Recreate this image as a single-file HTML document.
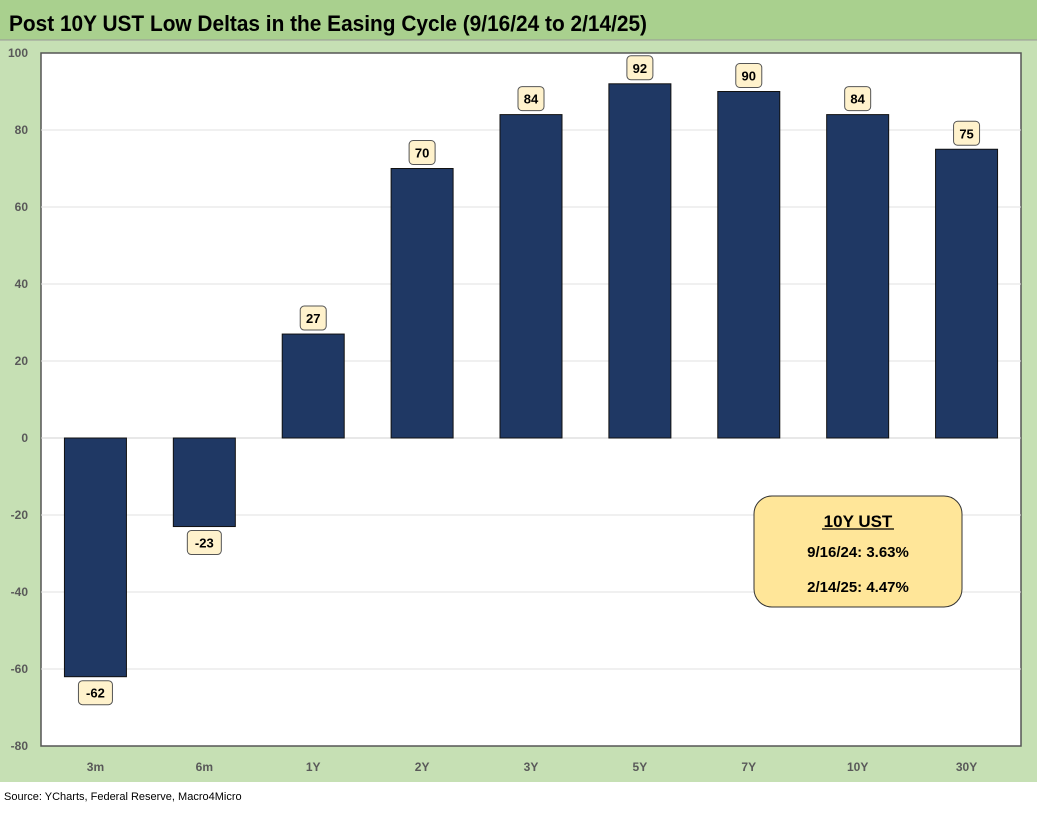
<!DOCTYPE html>
<html><head><meta charset="utf-8"><style>
body{margin:0;width:1038px;height:809px;background:#fff;font-family:"Liberation Sans",sans-serif;overflow:hidden}
</style></head><body>
<svg width="1038" height="809" xmlns="http://www.w3.org/2000/svg">
<rect x="0" y="0" width="1037" height="782" fill="#c6e0b4"/>
<rect x="0" y="0" width="1037" height="40" fill="#a9d08e"/>
<line x1="0" y1="40" x2="1037" y2="40" stroke="#999" stroke-width="1"/>
<text x="9" y="31" font-size="22" font-weight="bold" fill="#000" textLength="638" lengthAdjust="spacingAndGlyphs">Post 10Y UST Low Deltas in the Easing Cycle (9/16/24 to 2/14/25)</text>
<rect x="41" y="53" width="980" height="693" fill="#fff" stroke="#555" stroke-width="1.5"/>
<g id="grid"></g><g id="bars"></g><g id="labels"></g><g id="yticks"></g><g id="xticks"></g>
<g>
<rect x="754" y="496" width="208" height="111" rx="18" fill="#ffe699" stroke="#333" stroke-width="1"/>
<text x="858" y="527" font-size="17" font-weight="bold" text-anchor="middle">10Y UST</text>
<line x1="822" y1="529" x2="894" y2="529" stroke="#000" stroke-width="1.2"/>
<text x="858" y="557" font-size="15" font-weight="bold" text-anchor="middle">9/16/24: 3.63%</text>
<text x="858" y="592" font-size="15" font-weight="bold" text-anchor="middle">2/14/25: 4.47%</text>
</g>
<text x="4" y="800" font-size="11" fill="#000">Source: YCharts, Federal Reserve, Macro4Micro</text>
</svg>
<script>
const categories=["3m","6m","1Y","2Y","3Y","5Y","7Y","10Y","30Y"];
const values=[-62,-23,27,70,84,92,90,84,75];
const yTicks=[100,80,60,40,20,0,-20,-40,-60,-80];
(function(){
const NS="http://www.w3.org/2000/svg";
const pL=41,pR=1021,pT=53,pB=746,yMax=100,yMin=-80;
const y=v=>pT+(yMax-v)/(yMax-yMin)*(pB-pT);
const band=(pR-pL)/categories.length;
const xc=i=>pL+band*(i+0.5);
function mk(tag,attrs,parent){const e=document.createElementNS(NS,tag);for(const k in attrs)e.setAttribute(k,attrs[k]);document.getElementById(parent).appendChild(e);return e;}
yTicks.forEach(t=>{
  if(t!==yMax&&t!==yMin){const g=mk('line',{x1:pL,x2:pR,y1:y(t),y2:y(t),stroke:t===0?'#d0d0d0':'#e0e0e0','stroke-width':1},'grid');
  
  }
  const tx=mk('text',{x:28,y:y(t)+4,'font-size':12,'font-weight':'bold',fill:'#595959','text-anchor':'end'},'yticks');
  tx.textContent=t;
  
  
});
categories.forEach((c,i)=>{
  const v=values[i],w=62;
  const b=mk('rect',{x:xc(i)-w/2,y:Math.min(y(v),y(0)),width:w,height:Math.abs(y(v)-y(0)),fill:'#1f3864',stroke:'#111','stroke-width':1},'bars');
  
  
  const ly=v>=0?y(v)-16:y(v)+16;
  const lw=String(v).length*8+10;
  const r=mk('rect',{x:xc(i)-lw/2,y:ly-12,width:lw,height:24,rx:4,fill:'#fff2cc',stroke:'#555','stroke-width':1},'labels');
  
  
  const t=mk('text',{x:xc(i),y:ly+5,'font-size':13,'font-weight':'bold','text-anchor':'middle',fill:'#000'},'labels');
  t.textContent=v;
  
  
  const xt=mk('text',{x:xc(i),y:771,'font-size':12,'font-weight':'bold',fill:'#595959','text-anchor':'middle'},'xticks');
  xt.textContent=c;
  
  
});
})();
</script>
</body></html>
